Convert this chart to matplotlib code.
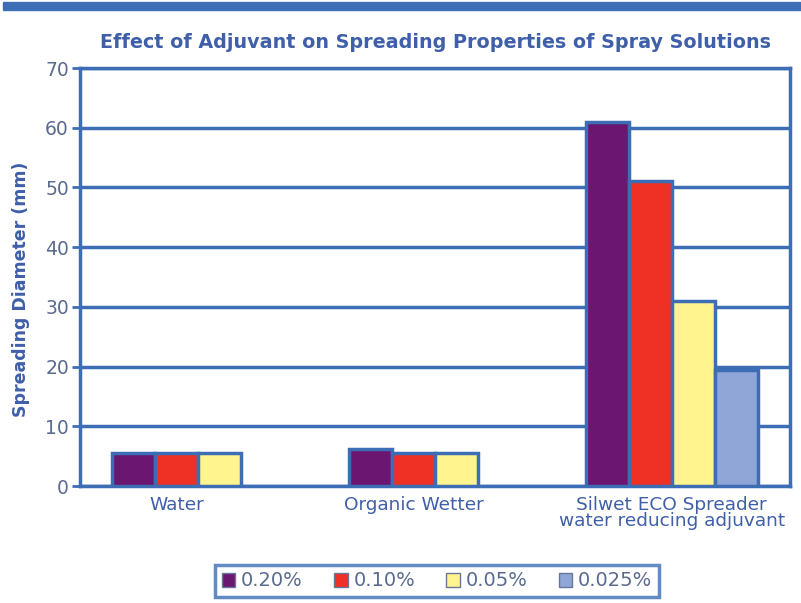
import numpy as np
import matplotlib
matplotlib.use("Agg")
import matplotlib.pyplot as plt
import matplotlib.patches

categories = ["Water", "Organic Wetter", "Silwet ECO Spreader\nwater reducing adjuvant"]
series = ["0.20%", "0.10%", "0.05%", "0.025%"]
values = [
    [5.5, 6.2, 61.0],
    [5.5, 5.5, 51.0],
    [5.5, 5.5, 31.0],
    [np.nan, np.nan, 19.5],
]
colors = ["#6b1670", "#ee3124", "#fff48e", "#8fa6d6"]
edge = "#3d6db5"
text_blue = "#3f5fa8"
tick_grey = "#5a6a8e"

fig = plt.figure(figsize=(8.01, 6.03), dpi=100)
ax = fig.add_axes([80 / 801, 1 - 486 / 603, 710 / 801, 418 / 603])

# top banner
fig.patches.append(matplotlib.patches.Rectangle((3 / 801, 1 - 10 / 603), 1, 8 / 603,
                                                transform=fig.transFigure, color=edge))

w = 0.182
x = np.arange(len(categories))
label_pos = []
for i, cat in enumerate(categories):
    present = [j for j in range(len(series)) if not np.isnan(values[j][i])]
    offs = [(j - 1.5) * w for j in present]
    label_pos.append(i + np.mean(offs))

for j, name in enumerate(series):
    vals = np.array(values[j], dtype=float)
    ax.bar(x + (j - 1.5) * w, vals, w, color=colors[j], edgecolor=edge,
           linewidth=2.5, label=name, zorder=3)

ax.set_xlim(-0.5, 2.5)
ax.set_ylim(0, 70)
ax.set_yticks(range(0, 71, 10))
ax.yaxis.grid(True, color=edge, linewidth=2.5, zorder=0)
ax.set_axisbelow(True)
for s in ax.spines.values():
    s.set_color(edge)
    s.set_linewidth(2.5)

ax.set_xticks(label_pos)
ax.set_xticklabels(categories, fontsize=13.3, color=text_blue, linespacing=0.9)
ax.tick_params(axis="x", length=0, pad=7)
ax.tick_params(axis="y", colors=edge, length=6, width=2, labelsize=13.5,
               labelcolor=tick_grey, pad=2)

ax.set_ylabel("Spreading Diameter (mm)", fontsize=12.5, fontweight="bold",
              color=text_blue)
ax.yaxis.set_label_coords(-0.07, 0.47)
fig.text(436 / 801, 1 - 42 / 603, "Effect of Adjuvant on Spreading Properties of Spray Solutions",
         ha="center", va="center", fontsize=13.8, fontweight="bold", color=text_blue)

leg = fig.legend(loc="center", bbox_to_anchor=(437 / 801, 1 - 581 / 603), ncol=4,
                 fontsize=14, frameon=True, fancybox=False, handlelength=0.7,
                 handleheight=0.7, handletextpad=0.3, columnspacing=1.6,
                 borderpad=0.35)
leg.get_frame().set_edgecolor(edge)
leg.get_frame().set_linewidth(2.5)
for t in leg.get_texts():
    t.set_color(tick_grey)
for h in leg.legend_handles:
    h.set_linewidth(1)
    h.set_edgecolor("#667799")

fig.savefig("out.png", dpi=100)
